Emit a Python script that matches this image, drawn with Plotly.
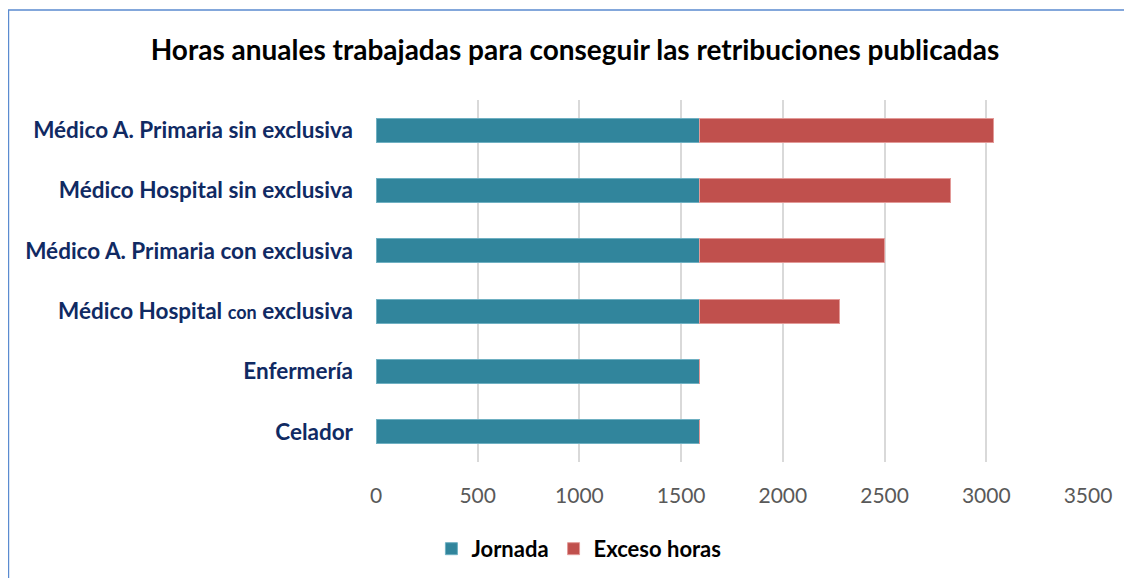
import plotly.graph_objects as go

categories = [
    "Médico A. Primaria sin exclusiva",
    "Médico Hospital sin exclusiva",
    "Médico A. Primaria con exclusiva",
    "Médico Hospital <span style='font-size:18px'>con</span> exclusiva",
    "Enfermería",
    "Celador",
]
jornada = [1592, 1592, 1592, 1592, 1592, 1592]
exceso = [1442, 1230, 908, 684, 0, 0]
x_ticks = [0, 500, 1000, 1500, 2000, 2500, 3000, 3500]

cats_rev = categories[::-1]
fig = go.Figure()
fig.add_trace(go.Bar(
    y=cats_rev, x=jornada[::-1], orientation="h", name="Jornada",
    marker=dict(color="#31859C", line=dict(color="#6FB0C2", width=1)), width=0.4,
))
fig.add_trace(go.Bar(
    y=cats_rev, x=exceso[::-1], orientation="h", name="Exceso horas",
    marker=dict(color="#C0504D", line=dict(color="#E39A98", width=1)), width=0.4,
))

fig.update_layout(
    barmode="stack",
    width=1124, height=570,
    margin=dict(l=368, r=44, t=92, b=116, autoexpand=False),
    paper_bgcolor="white", plot_bgcolor="white",
    font=dict(family="Lato", size=18),
    title=dict(
        text="<b>Horas anuales trabajadas para conseguir las retribuciones publicadas</b>",
        x=567 / 1124, xref="container", xanchor="center",
        y=1 - 42 / 570, yref="container", yanchor="middle",
        font=dict(family="Lato", size=28, color="black"),
    ),
    xaxis=dict(
        range=[0, 3500], tickvals=x_ticks, showgrid=True, gridcolor="#D9D9D9", gridwidth=2,
        zeroline=False, showline=False, ticks="", tickfont=dict(size=21, color="#595959"),
        ticklabelstandoff=19,
    ),
    yaxis=dict(
        showgrid=False, showline=False, ticks="", ticklabelstandoff=22,
        tickfont=dict(size=22.5, color="#102A63", weight="bold"),
    ),
    legend=dict(
        orientation="h", x=0.285, xanchor="center", y=-0.24, yanchor="middle",
        font=dict(size=22, color="black", weight="bold"), traceorder="normal",
    ),
    shapes=[dict(
        type="rect", xref="paper", yref="paper",
        x0=-0.5162, x1=1.07, y0=-0.5, y1=1.2486,
        line=dict(color="#5B8BD0", width=1.5), fillcolor="rgba(0,0,0,0)", layer="below",
    )],
)

fig.write_html("out.html")
